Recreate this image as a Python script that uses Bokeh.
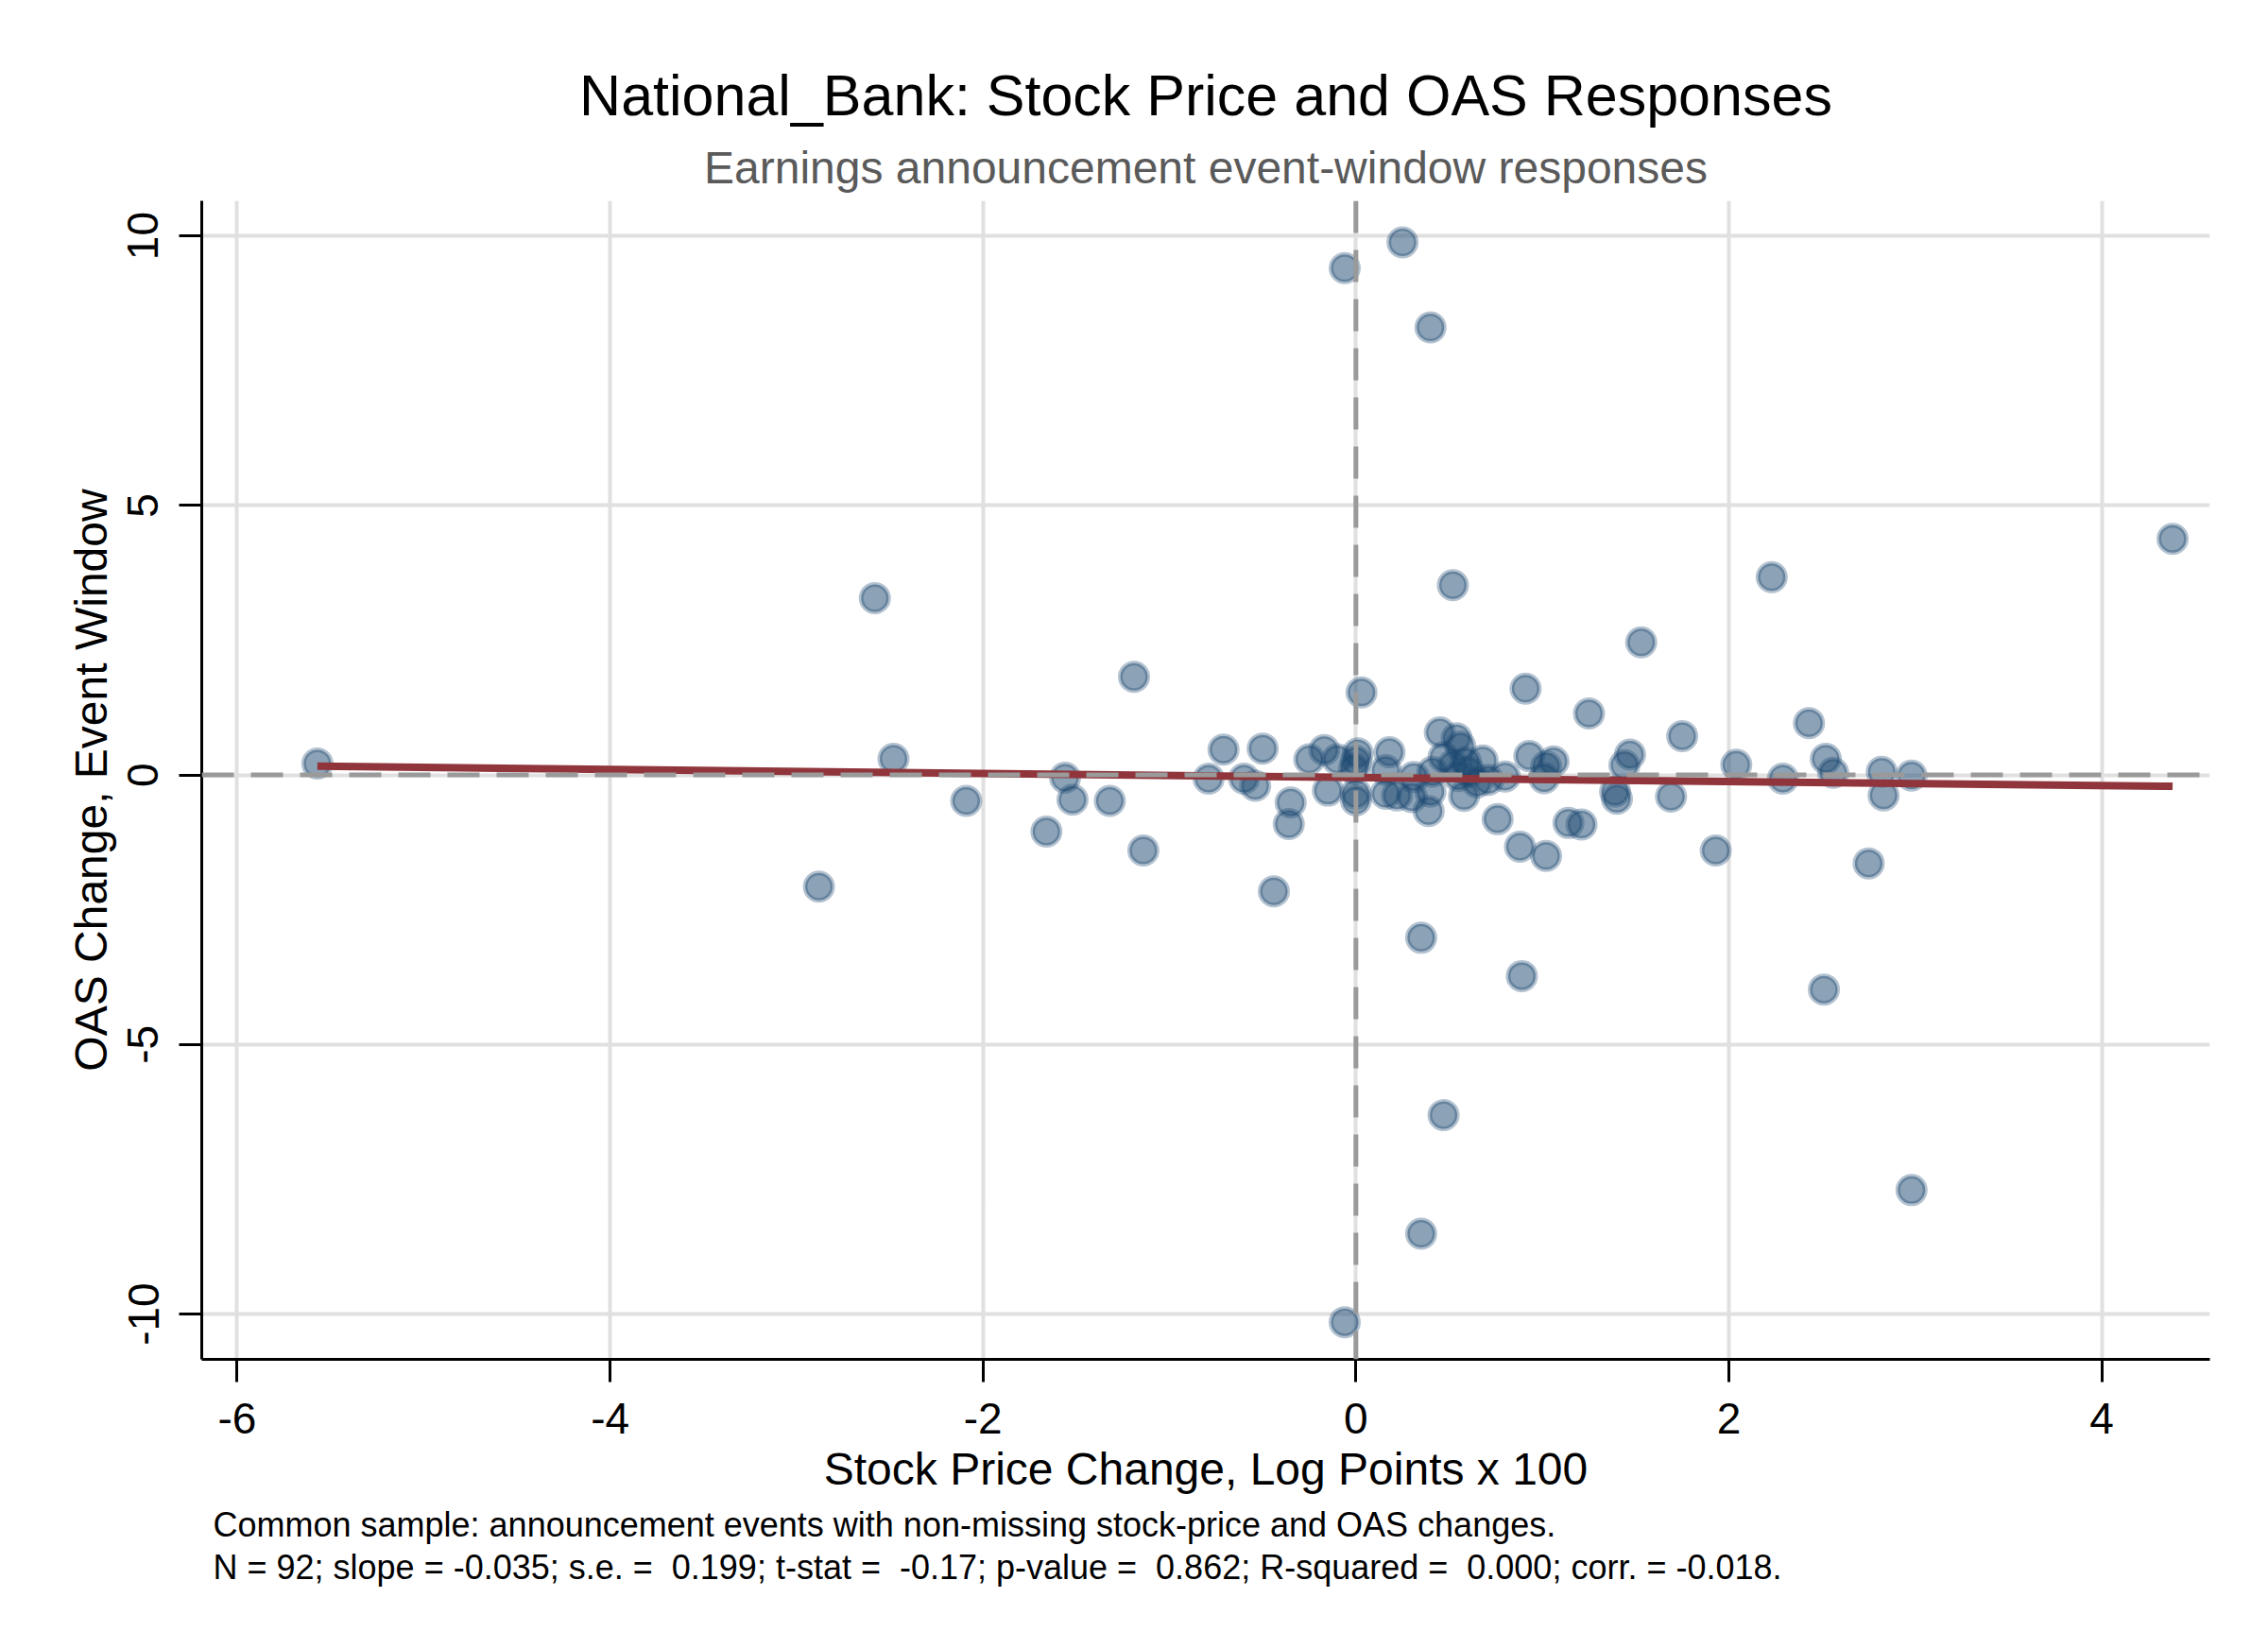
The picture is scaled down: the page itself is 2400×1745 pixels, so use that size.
import numpy as np
from bokeh.plotting import figure
from bokeh.models import Title, Span, FixedTicker, Range1d, ColumnDataSource
from bokeh.embed import file_html
from bokeh.resources import INLINE

# ---- data ----
stock_change = [-5.57, -2.58, -2.48, -2.88, -2.09, -1.19, -1.66, -1.56, -1.52, -1.32,
                -1.14, -0.79, -0.71, -0.60, -0.54, -0.50, -0.35, -0.36, -0.44, -0.25,
                -0.17, -0.10, -0.15, -0.06, -0.06, 0.01, 0.00, -0.01, 0.00, 0.00,
                0.03, 0.25, 0.40, 0.52, 0.35, 0.47, 0.35, 0.89, 0.18, 0.16,
                0.16, 0.22, 0.31, 0.30, 0.41, 0.40, 0.39, 0.45, 0.54, 0.56,
                0.52, 0.59, 0.61, 0.65, 0.68, 0.58, 0.80, 0.93, 1.02, 1.06,
                1.01, 0.76, 0.88, 1.02, 1.14, 1.21, 1.47, 1.44, 1.39, 1.40,
                1.69, 1.93, 2.04, 2.29, 1.53, 0.91, 1.25, 1.75, 2.23, 4.38,
                2.43, 2.52, 2.56, 2.75, 2.82, 2.83, 2.98, 2.51, 2.98, 0.71,
                0.55, 0.47]
oas_change = [0.21, 3.28, 0.30, -2.07, -0.48, 1.82, -1.05, -0.05, -0.46, -0.48,
              -1.40, -0.07, 0.47, -0.07, -0.20, 0.49, -0.51, -0.91, -2.16, 0.29,
              0.46, 0.29, -0.29, 9.40, -10.15, 0.40, 0.26, 0.11, -0.35, -0.47,
              1.53, 9.88, 8.30, 3.52, -8.51, -6.31, -3.02, -3.73, 0.42, 0.09,
              -0.35, -0.38, -0.04, -0.41, 0.06, -0.31, -0.67, 0.79, 0.68, 0.53,
              0.18, 0.24, 0.06, -0.14, 0.27, -0.39, -0.03, 0.35, 0.16, 0.25,
              -0.06, -0.82, -1.33, -1.50, -0.89, -0.92, 0.38, 0.18, -0.31, -0.44,
              -0.40, -1.40, 0.19, -0.07, 2.46, 1.60, 1.14, 0.72, 3.67, 4.38,
              0.96, 0.30, 0.04, -1.64, 0.06, -0.38, -0.01, -3.98, -7.70, -0.09,
              -0.02, 0.33]

x_ticks = [-6, -4, -2, 0, 2, 4]
y_ticks = [-10, -5, 0, 5, 10]

title_text = "National_Bank: Stock Price and OAS Responses"
subtitle_text = "Earnings announcement event-window responses"
x_label = "Stock Price Change, Log Points x 100"
y_label = "OAS Change, Event Window"
note1 = "Common sample: announcement events with non-missing stock-price and OAS changes."
note2 = ("N = 92; slope = -0.035; s.e. = \u00a00.199; t-stat = \u00a0-0.17; "
         "p-value = \u00a00.862; R-squared = \u00a00.000; corr. = -0.018.")

FONT = "Liberation Sans"

# ---- fitted line (OLS of OAS change on stock change) ----
xa = np.array(stock_change)
ya = np.array(oas_change)
slope, intercept = np.polyfit(xa, ya, 1)
fit_x = [xa.min(), xa.max()]
fit_y = [intercept + slope * v for v in fit_x]

p = figure(width=2400, height=1745, output_backend="svg", toolbar_location=None,
           x_range=Range1d(-6.19, 4.58), y_range=Range1d(-10.84, 10.65),
           min_border_left=213, min_border_right=62, min_border_top=212,
           min_border_bottom=307, background_fill_color="white",
           border_fill_color="white")
p.title.visible = False
p.outline_line_color = None

# grid
for g in (p.xgrid, p.ygrid):
    g.grid_line_color = "#e0e0e0"
    g.grid_line_width = 4
p.xgrid.ticker = FixedTicker(ticks=x_ticks)
p.ygrid.ticker = FixedTicker(ticks=y_ticks)

# axes
for ax in (p.xaxis[0], p.yaxis[0]):
    ax.axis_line_color = "black"
    ax.axis_line_width = 3
    ax.major_tick_line_color = "black"
    ax.major_tick_line_width = 3
    ax.major_tick_out = 24
    ax.major_tick_in = 0
    ax.minor_tick_line_color = None
    ax.major_label_text_font = FONT
    ax.major_label_text_font_size = "46px"
    ax.major_label_text_color = "black"
    ax.axis_label_text_font = FONT
    ax.axis_label_text_font_size = "48px"
    ax.axis_label_text_font_style = "normal"
    ax.axis_label_text_color = "black"
    ax.major_label_standoff = 22
p.xaxis.ticker = FixedTicker(ticks=x_ticks)
p.yaxis.ticker = FixedTicker(ticks=y_ticks)
p.xaxis.major_label_overrides = {t: str(t) for t in x_ticks}
p.yaxis.major_label_overrides = {t: str(t) for t in y_ticks}
p.xaxis.axis_label = x_label
p.yaxis.axis_label = y_label
p.yaxis.major_label_orientation = "vertical"
p.xaxis.axis_label_standoff = 8
p.yaxis.axis_label_standoff = 10

# reference lines at zero
p.add_layout(Span(location=0, dimension="height", line_color="#9a9a9a",
                  line_width=5, line_dash="34 18"))
p.add_layout(Span(location=0, dimension="width", line_color="#9a9a9a",
                  line_width=5, line_dash="34 18"))

# scatter points
src = ColumnDataSource(dict(x=stock_change, y=oas_change))
p.scatter("x", "y", source=src, size=29, fill_color="#1a476f", fill_alpha=0.5,
          line_color="#1a476f", line_alpha=0.33, line_width=5)

# fitted line
p.line(fit_x, fit_y, line_color="#90353b", line_width=8)

# titles (first added is nearest to frame)
p.add_layout(Title(text=subtitle_text, align="center", text_font=FONT,
                   text_font_size="48px", text_font_style="normal",
                   text_color="#5a5a5a", standoff=17), "above")
p.add_layout(Title(text=title_text, align="center", text_font=FONT,
                   text_font_size="61px", text_font_style="normal",
                   text_color="black", standoff=12), "above")

# notes below
p.add_layout(Title(text=note1, align="left", offset=12, text_font=FONT,
                   text_font_size="36px", text_font_style="normal",
                   text_color="black", standoff=15), "below")
p.add_layout(Title(text=note2, align="left", offset=12, text_font=FONT,
                   text_font_size="36px", text_font_style="normal",
                   text_color="black", standoff=-12), "below")

open("out.html", "w").write(file_html(p, INLINE))
